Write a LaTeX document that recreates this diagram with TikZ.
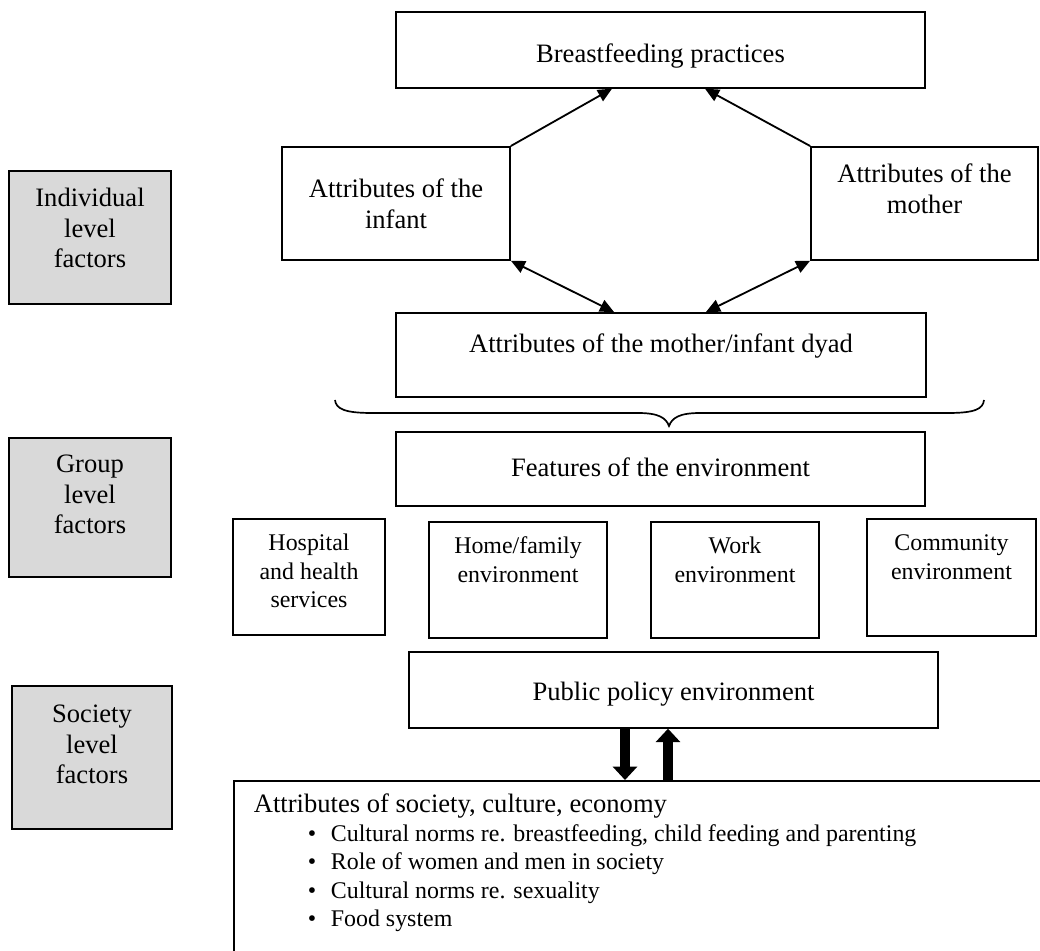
\documentclass[tikz,border=0pt]{standalone}
\usepackage{fontspec}
\setmainfont{Liberation Serif}
\usetikzlibrary{arrows.meta}
\newcommand{\bigtxt}{\fontsize{18.9pt}{21.7pt}\selectfont}
\newcommand{\smalltxt}{\fontsize{17pt}{20.2pt}\selectfont}
\newcommand{\boxlines}[1]{\begin{tabular}[t]{@{}c@{}}#1\end{tabular}}
\tikzset{
	box/.style={draw, line width=1.2pt, inner sep=0pt, anchor=north, font=\bigtxt},
	levelbox/.style={box, fill=black!15},
	envbox/.style={box, font=\smalltxt},
	arr/.style={line width=1.3pt, -{Triangle[length=10pt,width=9pt]}},
	dblarr/.style={line width=1.3pt, {Triangle[length=10pt,width=9pt]}-{Triangle[length=10pt,width=9pt]}},
	fatarr/.style={line width=7.8pt, -{Triangle[length=9.5pt,width=17pt]}}
}
\begin{document}
\begin{tikzpicture}[x=0.025cm, y=-0.025cm]
		\useasboundingbox (0,0) rectangle (1040,951);
		% Ebenen links
		\node [levelbox, minimum width=4.05cm, text height=0.9cm, text depth=2.425cm] (indiv) at (90,170) {\boxlines{Individual\\level\\factors}};
		\node [levelbox, minimum width=4.05cm, text height=0.875cm, text depth=2.6cm] (group) at (90,437) {\boxlines{Group\\level\\factors}};
		\node [levelbox, minimum width=4cm, text height=0.925cm, text depth=2.65cm] (soclevel) at (92,685) {\boxlines{Society\\level\\factors}};
		% Individuum
		\node [box, minimum width=13.225cm, text height=1.275cm, text depth=0.625cm] (practice) at (660.5,11) {Breastfeeding practices};
		\node [box, minimum width=5.7cm, text height=1.275cm, text depth=1.55cm] (infant) at (396,146) {\boxlines{Attributes of the\\infant}};
		\node [box, minimum width=5.675cm, text height=0.9cm, text depth=1.925cm] (mother) at (924.5,146) {\boxlines{Attributes of the\\mother}};
		\node [box, minimum width=13.25cm, text height=1cm, text depth=1.1cm] (dyad) at (661,312) {Attributes of the mother/infant dyad};
		\draw [arr] (infant.north east) -- (612,0 |- practice.south);
		\draw [arr] (mother.north west) -- (705,0 |- practice.south);
		\draw [dblarr] (infant.south east) -- (614,0 |- dyad.north);
		\draw [dblarr] (mother.south west) -- (706,0 |- dyad.north);
		% Klammer
		\draw [line width=1.2pt] (335,400) .. controls (336,409) and (345,413) .. (372,413) -- (638,413) .. controls (659,413) and (666,418) .. (669,426) .. controls (672,418) and (679,413) .. (700,413) -- (948,413) .. controls (975,413) and (983,409) .. (984,400);
		% Gruppe
		\node [box, minimum width=13.225cm, text height=1.125cm, text depth=0.725cm] (features) at (660.5,431) {Features of the environment};
		\node [envbox, minimum width=3.8cm, text height=0.8cm, text depth=2.1cm] (hospital) at (309,518) {\boxlines{Hospital\\and health\\services}};
		\node [envbox, minimum width=4.45cm, text height=0.8cm, text depth=2.1cm] (home) at (518,521) {\boxlines{Home/family\\environment}};
		\node [envbox, minimum width=4.2cm, text height=0.8cm, text depth=2.1cm] (work) at (735,521) {\boxlines{Work\\environment}};
		\node [envbox, minimum width=4.225cm, text height=0.8cm, text depth=2.125cm] (community) at (951.5,518) {\boxlines{Community\\environment}};
		% Gesellschaft
		\node [box, minimum width=13.225cm, text height=1.225cm, text depth=0.675cm] (policy) at (673.5,651) {Public policy environment};
		\node [envbox, anchor=north west, inner xsep=0.5cm, text height=0.8cm, text depth=3.825cm] (culture) at (233,780) {\makebox[20cm][l]{\begin{tabular}[t]{@{}l@{}}
			{\bigtxt Attributes of society, culture, economy}\\
			\hspace*{1.35cm}\makebox[0.575cm][l]{\textbullet}Cultural norms re. breastfeeding, child feeding and parenting\\
			\hspace*{1.35cm}\makebox[0.575cm][l]{\textbullet}Role of women and men in society\\
			\hspace*{1.35cm}\makebox[0.575cm][l]{\textbullet}Cultural norms re. sexuality\\
			\hspace*{1.35cm}\makebox[0.575cm][l]{\textbullet}Food system
		\end{tabular}}};
		\draw [fatarr] (625,0 |- policy.south) -- (625,0 |- culture.north);
		\draw [fatarr] (668,0 |- culture.north) -- (668,0 |- policy.south);
\end{tikzpicture}
\end{document}
